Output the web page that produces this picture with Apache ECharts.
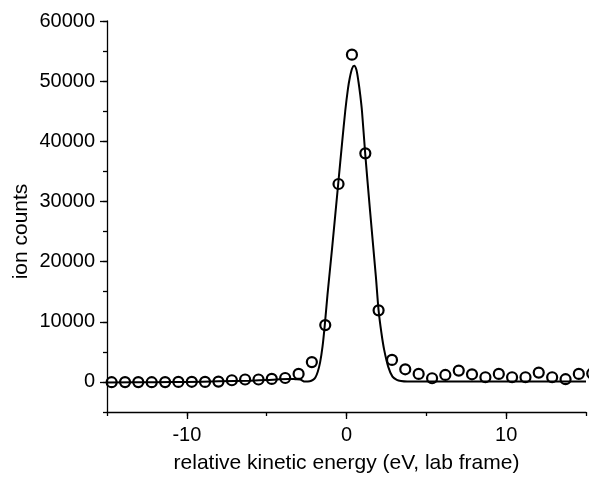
<!DOCTYPE html>
<html>
	<head>
		<meta charset="utf-8">
		<title>ion counts</title>
		<style type="text/css">
			html, body { margin: 0; padding: 0; background: #fff; }
			#main { width: 589px; height: 479px; }
		</style>
	</head>
	<body>
		<div id="main"></div>
		<script src="https://cdn.jsdelivr.net/npm/echarts@6/dist/echarts.min.js"></script>
		<script type="text/javascript">
			// measured points (circles)
			var energies = [-14.71, -13.87, -13.04, -12.2, -11.36, -10.53, -9.69, -8.86, -8.02,
				-7.18, -6.35, -5.51, -4.68, -3.84, -3.0, -2.17, -1.33, -0.5, 0.34, 1.18, 2.01,
				2.85, 3.68, 4.52, 5.36, 6.19, 7.03, 7.86, 8.7, 9.54, 10.37, 11.21, 12.04, 12.88,
				13.72, 14.55, 15.39];
			var counts = [-50, -30, -30, -50, -30, 0, 20, 0, 50,
				280, 400, 400, 500, 650, 1330, 3300, 9450, 32900, 54400, 38000, 11900,
				3660, 2100, 1330, 610, 1160, 1880, 1270, 780, 1330, 780, 780, 1550, 780,
				450, 1330, 1400];

			// fitted curve
			var fitEnergy = [-15, -12, -10, -8, -6, -5, -4.2, -3.6, -3.2, -2.9, -2.6, -2.3, -2.1,
				-1.95, -1.8, -1.65, -1.5, -1.36, -1.19, -0.9, -0.52, -0.27, -0.08, 0.09, 0.21,
				0.35, 0.48, 0.62, 0.75, 0.86, 0.97, 1.17, 1.47, 1.84, 2.01, 2.19, 2.36, 2.61,
				2.88, 3.15, 3.41, 3.8, 5, 8, 12, 15];
			var fitCounts = [-80, -50, 0, 100, 200, 300, 450, 500, 450, 400, 50, 100, 350,
				750, 1700, 3300, 5900, 9470, 14500, 22300, 32900, 39900, 45000, 48700, 50600,
				52100, 52570, 51900, 49900, 47700, 45000, 38000, 28590, 17500, 11900, 8090, 5320, 2540,
				880, 350, 170, 80, 60, 60, 60, 60];

			var xLabels = [-10, 0, 10];
			var yLabels = [0, 10000, 20000, 30000, 40000, 50000, 60000];

			var labelFont = { color: '#000', fontSize: 20, fontFamily: 'Liberation Sans, Arial, sans-serif' };
			var nameFont = { color: '#000', fontSize: 21, fontFamily: 'Liberation Sans, Arial, sans-serif' };

			var points = energies.map(function(e, i) { return [e, counts[i]]; });
			var fit = fitEnergy.map(function(e, i) { return [e, fitCounts[i]]; });

			var myChart = echarts.init(document.getElementById('main'), null, { renderer: 'canvas' });

			var option = {
				backgroundColor: '#fff',
				animation: false,
				grid: { left: 107, right: 3, top: 21, bottom: 67, containLabel: false },
				xAxis: [{
					type: 'value', min: -15, max: 15, interval: 5,
					name: 'relative kinetic energy (eV, lab frame)',
					nameLocation: 'middle', nameGap: 41,
					nameTextStyle: nameFont,
					axisLine: { onZero: false, lineStyle: { color: '#000', width: 1.3 } },
					axisTick: { inside: false, length: 4, lineStyle: { color: '#000', width: 1.3 } },
					axisLabel: { show: false },
					splitLine: { show: false }
				}, {
					type: 'value', min: -15, max: 15, position: 'bottom', offset: 0,
					axisLine: { show: false, onZero: false },
					axisTick: { length: 7, customValues: xLabels, lineStyle: { color: '#000', width: 1.3 } },
					axisLabel: Object.assign({ margin: 13, customValues: xLabels }, labelFont),
					splitLine: { show: false }
				}],
				yAxis: [{
					type: 'value', min: -5000, max: 60000, interval: 5000,
					name: 'ion counts',
					nameLocation: 'middle', nameGap: 75,
					nameTextStyle: Object.assign({ padding: [0, 30, 0, 0] }, nameFont),
					axisLine: { show: true, onZero: false, lineStyle: { color: '#000', width: 1.3 } },
					axisTick: { show: true, length: 4, lineStyle: { color: '#000', width: 1.3 } },
					axisLabel: { show: false },
					splitLine: { show: false }
				}, {
					type: 'value', min: -5000, max: 60000, position: 'left', offset: 0,
					axisLine: { show: false, onZero: false },
					axisTick: { show: true, length: 7, customValues: yLabels, lineStyle: { color: '#000', width: 1.3 } },
					axisLabel: Object.assign({
						margin: 12,
						customValues: yLabels,
						formatter: function(v) { return String(v); }
					}, labelFont),
					splitLine: { show: false }
				}],
				series: [{
					name: 'fit',
					type: 'line',
					data: fit,
					smooth: 0.3,
					showSymbol: false,
					lineStyle: { color: '#000', width: 2 },
					z: 2
				}, {
					name: 'ion counts',
					type: 'scatter',
					data: points,
					clip: false,
					symbol: 'circle',
					symbolSize: 10,
					itemStyle: { color: 'rgba(0,0,0,0)', borderColor: '#000', borderWidth: 2.2, opacity: 1 },
					z: 3
				}]
			};
			myChart.setOption(option);
		</script>
	</body>
</html>
